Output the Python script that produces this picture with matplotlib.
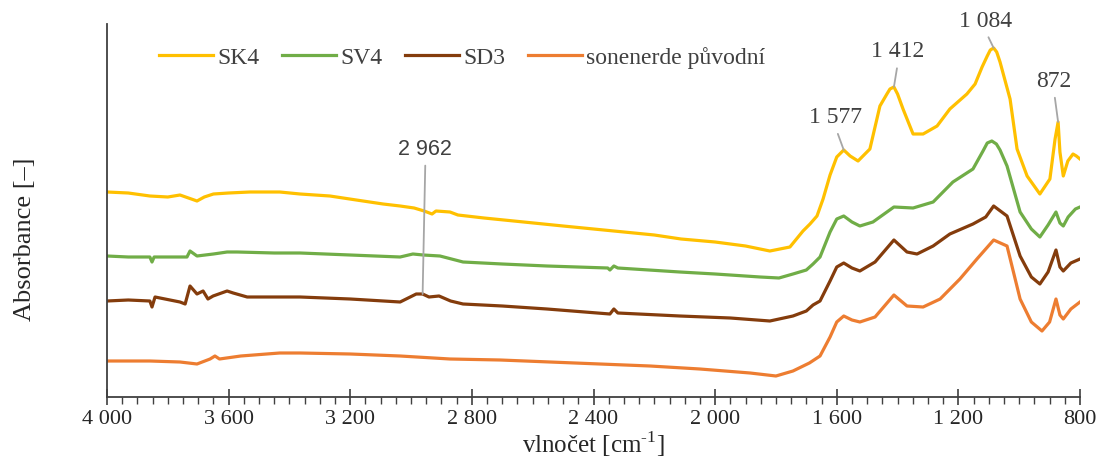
import matplotlib
matplotlib.use("Agg")
import matplotlib.pyplot as plt
import numpy as np
from matplotlib.ticker import MultipleLocator

# wavenumbers [cm-1] and absorbance (arbitrary, stacked)
wn_sk4 = [4000, 3930, 3859, 3800, 3760, 3704, 3680, 3650, 3600, 3530, 3432, 3365, 3267, 3180, 3092,
          3036, 2990, 2957, 2931, 2918, 2872, 2846, 2760, 2662, 2500, 2333, 2200, 2112, 2000, 1900,
          1820, 1754, 1711, 1688, 1665, 1645, 1622, 1600, 1577, 1556, 1530, 1491, 1458, 1435, 1425,
          1412, 1400, 1382, 1349, 1316, 1270, 1228, 1172, 1145, 1122, 1105, 1095, 1084, 1074, 1063,
          1030, 1007, 974, 932, 899, 882, 872, 866, 855, 840, 823, 812, 800]
abs_sk4 = [2.05, 2.04, 2.01, 2.00, 2.02, 1.96, 2.00, 2.03, 2.04, 2.05, 2.05, 2.03, 2.01, 1.97, 1.93,
           1.91, 1.89, 1.86, 1.83, 1.86, 1.85, 1.82, 1.79, 1.76, 1.71, 1.66, 1.62, 1.58, 1.55, 1.51,
           1.46, 1.50, 1.66, 1.73, 1.81, 1.98, 2.22, 2.40, 2.47, 2.41, 2.36, 2.48, 2.91, 3.03, 3.08,
           3.10, 3.03, 2.88, 2.63, 2.63, 2.71, 2.88, 3.03, 3.13, 3.30, 3.41, 3.47, 3.49, 3.45, 3.35,
           2.98, 2.48, 2.21, 2.03, 2.18, 2.58, 2.75, 2.45, 2.21, 2.36, 2.43, 2.41, 2.38]

wn_sv4 = [4000, 3930, 3859, 3852, 3845, 3780, 3737, 3727, 3704, 3650, 3605, 3572, 3450, 3365, 3200,
          3036, 2994, 2960, 2905, 2829, 2700, 2553, 2353, 2346, 2333, 2320, 2116, 2000, 1852, 1790,
          1744, 1700, 1678, 1655, 1622, 1600, 1577, 1550, 1524, 1481, 1412, 1349, 1283, 1218, 1152,
          1119, 1105, 1090, 1075, 1063, 1040, 997, 960, 932, 905, 879, 866, 855, 839, 815, 800]
abs_sv4 = [1.41, 1.40, 1.40, 1.35, 1.40, 1.40, 1.40, 1.46, 1.41, 1.43, 1.45, 1.45, 1.44, 1.44, 1.42,
           1.40, 1.43, 1.42, 1.41, 1.35, 1.33, 1.31, 1.29, 1.27, 1.31, 1.29, 1.25, 1.23, 1.20, 1.19,
           1.23, 1.27, 1.33, 1.40, 1.65, 1.78, 1.81, 1.75, 1.71, 1.75, 1.90, 1.89, 1.95, 2.15, 2.28,
           2.46, 2.54, 2.56, 2.53, 2.47, 2.31, 1.85, 1.68, 1.60, 1.72, 1.85, 1.74, 1.71, 1.80, 1.88, 1.90]

wn_sd3 = [4000, 3930, 3859, 3852, 3842, 3760, 3743, 3727, 3704, 3684, 3668, 3651, 3605, 3585, 3539,
          3365, 3200, 3036, 2983, 2962, 2941, 2908, 2870, 2829, 2700, 2553, 2346, 2333, 2320, 2116,
          1950, 1820, 1744, 1700, 1678, 1655, 1622, 1600, 1577, 1550, 1524, 1474, 1412, 1369, 1336,
          1283, 1228, 1152, 1110, 1084, 1040, 997, 960, 932, 905, 879, 866, 855, 830, 800]
abs_sd3 = [0.96, 0.97, 0.96, 0.90, 1.00, 0.95, 0.93, 1.11, 1.03, 1.06, 0.98, 1.01, 1.06, 1.04, 1.00,
           1.00, 0.98, 0.95, 1.03, 1.03, 1.00, 1.01, 0.96, 0.93, 0.91, 0.88, 0.83, 0.88, 0.84, 0.81,
           0.79, 0.76, 0.81, 0.86, 0.92, 0.96, 1.16, 1.30, 1.34, 1.29, 1.26, 1.35, 1.57, 1.45, 1.43,
           1.51, 1.63, 1.73, 1.80, 1.91, 1.81, 1.41, 1.20, 1.13, 1.25, 1.47, 1.30, 1.26, 1.34, 1.38]

wn_orig = [4000, 3859, 3760, 3704, 3661, 3645, 3630, 3560, 3432, 3365, 3200, 3036, 2872, 2707, 2543,
           2379, 2214, 2050, 1885, 1800, 1744, 1690, 1655, 1622, 1600, 1577, 1550, 1524, 1474, 1412,
           1369, 1316, 1260, 1195, 1139, 1084, 1040, 997, 960, 925, 900, 879, 866, 855, 830, 800]
abs_orig = [0.36, 0.36, 0.35, 0.33, 0.38, 0.41, 0.38, 0.41, 0.44, 0.44, 0.43, 0.41, 0.38, 0.37, 0.35,
            0.33, 0.31, 0.28, 0.24, 0.21, 0.26, 0.34, 0.41, 0.60, 0.75, 0.81, 0.77, 0.75, 0.80, 1.02,
            0.91, 0.90, 0.98, 1.18, 1.38, 1.57, 1.51, 0.98, 0.75, 0.66, 0.75, 0.98, 0.82, 0.78, 0.88, 0.95]

series_names = ["SK4", "SV4", "SD3", "sonenerde původní"]
series_colors = ["#FFC000", "#70AD47", "#843C0C", "#ED7D31"]

peak_labels = ["2 962", "1 577", "1 412", "1 084", "872"]
peak_wn = [2962, 1577, 1412, 1084, 872]
peak_series = ["SD3", "SK4", "SK4", "SK4", "SK4"]

xtick_values = [4000, 3600, 3200, 2800, 2400, 2000, 1600, 1200, 800]
xtick_labels = ["4 000", "3 600", "3 200", "2 800", "2 400", "2 000", "1 600", "1 200", "800"]

plt.rcParams["font.family"] = ["Liberation Serif", "DejaVu Serif"]

fig = plt.figure(figsize=(11.03, 4.64), dpi=100)
ax = fig.add_axes([107 / 1103, 66 / 464, 973 / 1103, 373 / 464])

data = {
    "SK4": (wn_sk4, abs_sk4),
    "SV4": (wn_sv4, abs_sv4),
    "SD3": (wn_sd3, abs_sd3),
    "sonenerde původní": (wn_orig, abs_orig),
}
for name, color in zip(series_names, series_colors):
    x, y = data[name]
    ax.plot(x, y, color=color, lw=2.3, label=name, solid_joinstyle="round")

# peak labels with grey leader lines
offsets = [(2, 105), (-6, 24), (3, 26), (-6, 20), (-3, 30)]
for lab, wn, ser, off in zip(peak_labels, peak_wn, peak_series, offsets):
    x, y = data[ser]
    yv = np.interp(wn, x[::-1], y[::-1])
    if lab == "2 962":
        fam, fs = ["Liberation Sans"], 15.5
    else:
        fam, fs = ["Liberation Serif"], 17
    ax.annotate(lab, xy=(wn, yv), xytext=off, textcoords="offset points",
                ha="center", va="center", fontsize=fs, color="#404040", family=fam,
                arrowprops=dict(arrowstyle="-", color="#A6A6A6", lw=1.3,
                                relpos=(0.5, 0.0), shrinkA=3, shrinkB=0),
                annotation_clip=False)

ax.set_xlim(4000, 800)
ax.set_ylim(0, 3.73)
ax.set_yticks([])
ax.set_xticks(xtick_values)
ax.set_xticklabels(xtick_labels)
ax.xaxis.set_minor_locator(MultipleLocator(50))
ax.tick_params(axis="x", which="major", direction="inout", length=12, width=1.2,
               color="#404040", labelsize=16, pad=3, labelcolor="#262626")
ax.tick_params(axis="x", which="minor", direction="out", length=5, width=1.0, color="#404040")

for s in ["top", "right"]:
    ax.spines[s].set_visible(False)
for s in ["left", "bottom"]:
    ax.spines[s].set_color("#404040")
    ax.spines[s].set_linewidth(1.3)

ax.set_xlabel("vlnočet [cm$^{\\mathregular{\u2010}\\mathregular{1}}$]", fontsize=18, color="#262626", labelpad=0)
ax.set_ylabel("Absorbance [–]", fontsize=19, color="#262626")
ax.yaxis.set_label_coords(-0.073, 0.425)

ax.legend(loc="center", bbox_to_anchor=(0.365, 0.912), ncol=4, frameon=False,
          fontsize=17, handlelength=2.3, handletextpad=0.17, columnspacing=0.95,
          labelcolor="#404040")

fig.savefig("out.png", dpi=100)
